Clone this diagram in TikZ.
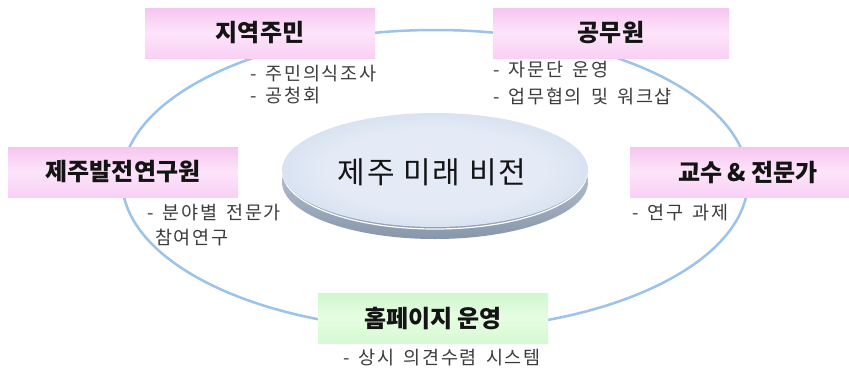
\documentclass[tikz,border=0pt]{standalone}
\usepackage{fontspec}
\newfontfamily\kr{Noto Sans CJK KR}
\newfontfamily\krsub{Noto Sans CJK KR}[LetterSpace=9,WordSpace=1.6]
\newfontfamily\krmid{Noto Sans CJK KR}[LetterSpace=6]
\definecolor{ringblue}{RGB}{155,195,235}
\definecolor{pinkA}{RGB}{247,198,240}
\definecolor{pinkB}{RGB}{253,228,251}
\definecolor{pinkC}{RGB}{249,208,244}
\definecolor{greenA}{RGB}{208,247,208}
\definecolor{greenB}{RGB}{230,253,226}
\definecolor{greenC}{RGB}{214,249,210}
\definecolor{titletext}{RGB}{20,20,20}
\definecolor{subtext}{RGB}{60,60,60}
\definecolor{diskin}{RGB}{228,235,246}
\definecolor{diskout}{RGB}{176,195,222}
\definecolor{rimtop}{RGB}{210,220,235}
\definecolor{rimbot}{RGB}{135,150,170}
\pgfdeclareradialshading{disktop}{\pgfpoint{0bp}{0bp}}{color(0bp)=(diskin); color(18bp)=(diskin); color(50bp)=(diskout); color(70bp)=(diskout)}
\tikzset{
  pinkbox/.style={minimum width=230pt, minimum height=50pt, inner sep=0pt,
    top color=pinkA, bottom color=pinkC, middle color=pinkB,
    font=\kr\bfseries\fontsize{24}{27}\selectfont, text=titletext},
  greenbox/.style={pinkbox, top color=greenA, bottom color=greenC, middle color=greenB},
  subnote/.style={anchor=west, inner sep=0pt, font=\krsub\fontsize{18.5}{20}\selectfont, text=subtext},
}
\begin{document}
\begin{tikzpicture}[x=1pt,y=-1pt]
\useasboundingbox (0,0) rectangle (849,367);
\fill[white] (0,0) rectangle (849,367);
% ring
\draw[ringblue, line width=2.5pt] (435,180) ellipse [x radius=313, y radius=150];
% disk
\shade[top color=rimtop, bottom color=rimbot] (435,182) ellipse [x radius=153, y radius=57];
\draw[white, line width=1.2pt] (283,172) arc[start angle=180, end angle=0, x radius=152, y radius=57];
\shade[shading=disktop] (435,170) ellipse [x radius=153, y radius=57];
\node[font=\krmid\fontsize{30}{34}\selectfont, text=titletext] (vision) at (432,172) {제주 미래 비전};
% boxes
\node[pinkbox] (jumin) at (260,33) {지역주민};
\node[pinkbox, minimum width=236pt] (gong) at (611,33) {공무원};
\node[pinkbox] (jeju) at (123,172) {제주발전연구원};
\node[pinkbox, minimum width=236pt] (prof) at (748,172) {교수 \& 전문가};
\node[greenbox] (home) at (433,318) {홈페이지 운영};
% notes
\node[subnote] (n1) at (250,74) {- 주민의식조사};
\node[subnote] (n2) at (250,96) {- 공청회};
\node[subnote] (n3) at (493,70) {- 자문단 운영};
\node[subnote] (n4) at (493,97) {- 업무협의 및 워크샵};
\node[subnote] (n5) at (147,213) {- 분야별 전문가};
\node[subnote] (n6) at (155,238) {참여연구};
\node[subnote] (n7) at (632,213) {- 연구 과제};
\node[subnote] (n8) at (343,358) {- 상시 의견수렴 시스템};
\end{tikzpicture}
\end{document}
